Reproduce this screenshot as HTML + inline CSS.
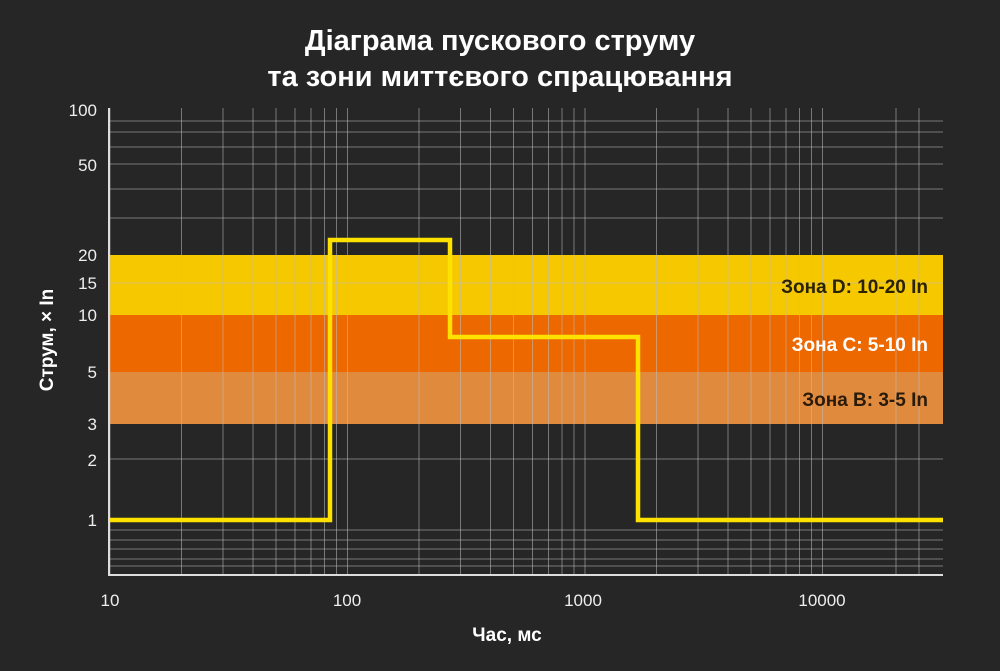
<!DOCTYPE html>
<html><head><meta charset="utf-8"><style>
body{margin:0;background:#262626;}
svg{display:block}
</style></head><body>
<svg width="1000" height="671" xmlns="http://www.w3.org/2000/svg" font-family="Liberation Sans, DejaVu Sans, sans-serif">
<rect width="1000" height="671" fill="#262626"/>
<text x="500" y="50" text-anchor="middle" fill="#fff" font-size="29" font-weight="bold">Діаграма пускового струму</text>
<text x="500" y="86" text-anchor="middle" fill="#fff" font-size="29" font-weight="bold">та зони миттєвого спрацювання</text>
<rect x="108" y="108" width="835" height="467" fill="#262626"/>
<rect x="108" y="255" width="835" height="60" fill="#f6c800"/>
<rect x="108" y="315" width="835" height="57" fill="#ee6800"/>
<rect x="108" y="372" width="835" height="52" fill="#e08a3e"/>
<g stroke="#bbb" stroke-opacity="0.55" stroke-width="1">
<g id="v">
<line x1="181.5" y1="108" x2="181.5" y2="575"/><line x1="223" y1="108" x2="223" y2="575"/><line x1="253" y1="108" x2="253" y2="575"/><line x1="276" y1="108" x2="276" y2="575"/><line x1="295" y1="108" x2="295" y2="575"/><line x1="311" y1="108" x2="311" y2="575"/><line x1="324.5" y1="108" x2="324.5" y2="575"/><line x1="336.5" y1="108" x2="336.5" y2="575"/><line x1="347.5" y1="108" x2="347.5" y2="575"/>
</g>
<use href="#v" transform="translate(237.5,0)"/>
<use href="#v" transform="translate(475,0)"/>
<line x1="110" y1="108" x2="110" y2="575"/>
<line x1="896" y1="108" x2="896" y2="575"/><line x1="919" y1="108" x2="919" y2="575"/>
</g>
<g stroke="#bbb" stroke-opacity="0.55" stroke-width="1">
<line x1="108" y1="121" x2="943" y2="121"/><line x1="108" y1="132" x2="943" y2="132"/><line x1="108" y1="147" x2="943" y2="147"/><line x1="108" y1="164" x2="943" y2="164"/><line x1="108" y1="189" x2="943" y2="189"/><line x1="108" y1="218" x2="943" y2="218"/><line x1="108" y1="283" x2="943" y2="283"/><line x1="108" y1="459" x2="943" y2="459"/><line x1="108" y1="530" x2="943" y2="530"/><line x1="108" y1="540" x2="943" y2="540"/><line x1="108" y1="549" x2="943" y2="549"/><line x1="108" y1="559" x2="943" y2="559"/><line x1="108" y1="566" x2="943" y2="566"/>
</g>
<line x1="109" y1="108" x2="109" y2="575" stroke="#ddd" stroke-width="2"/>
<line x1="108" y1="575" x2="943" y2="575" stroke="#ddd" stroke-width="2"/>
<polyline points="110,520 330,520 330,240 450,240 450,337 638,337 638,520 943,520" fill="none" stroke="#ffe100" stroke-width="4.5"/>
<g font-weight="bold" font-size="19" text-anchor="end">
<text x="928" y="293" fill="#2a2200">Зона D: 10-20 In</text>
<text x="928" y="351" fill="#fff">Зона C: 5-10 In</text>
<text x="928" y="406" fill="#2a1a0a">Зона B: 3-5 In</text>
</g>
<g fill="#eee" font-size="17" text-anchor="end">
<text x="97" y="116">100</text><text x="97" y="171">50</text><text x="97" y="261">20</text><text x="97" y="289">15</text><text x="97" y="321">10</text><text x="97" y="378">5</text><text x="97" y="430">3</text><text x="97" y="466">2</text><text x="97" y="526">1</text>
</g>
<g fill="#eee" font-size="17" text-anchor="middle">
<text x="110" y="606">10</text><text x="347" y="606">100</text><text x="583" y="606">1000</text><text x="822" y="606">10000</text>
</g>
<text x="507" y="641" text-anchor="middle" fill="#fff" font-size="19" font-weight="bold">Час, мс</text>
<text transform="translate(53,340) rotate(-90)" text-anchor="middle" fill="#fff" font-size="19" font-weight="bold">Струм, × In</text>
</svg>
</body></html>
